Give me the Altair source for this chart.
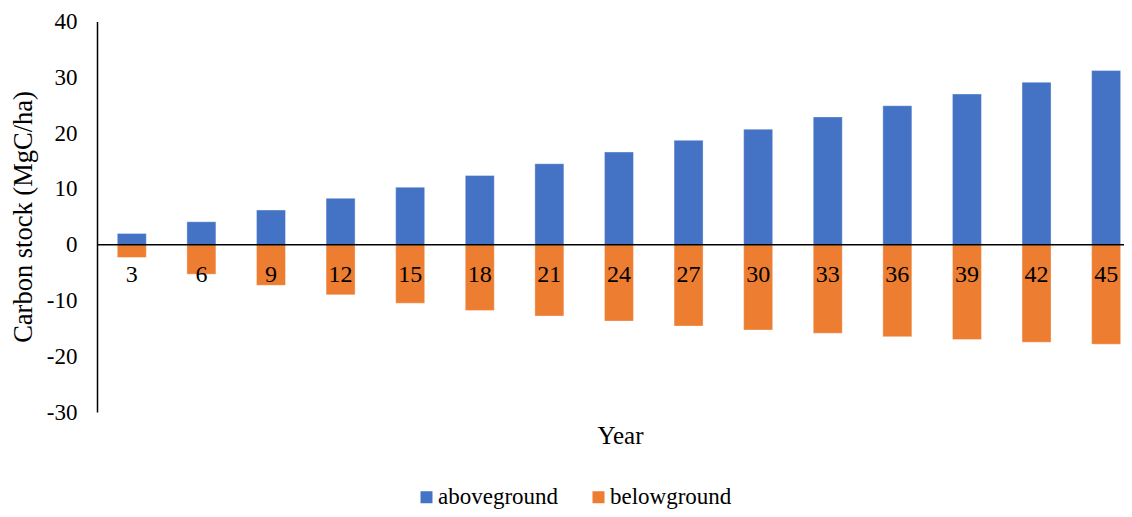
import altair as alt
import pandas as pd

years = [3, 6, 9, 12, 15, 18, 21, 24, 27, 30, 33, 36, 39, 42, 45]
aboveground = [2.0, 4.1, 6.2, 8.3, 10.3, 12.4, 14.5, 16.6, 18.7, 20.7, 22.9, 24.9, 27.0, 29.1, 31.2]
belowground = [-2.3, -5.3, -7.3, -9.0, -10.5, -11.8, -12.8, -13.7, -14.6, -15.3, -15.9, -16.5, -17.0, -17.5, -17.85]
series = ["aboveground", "belowground"]
colors = ["#4472C4", "#ED7D31"]
y_ticks = [-30, -20, -10, 0, 10, 20, 30, 40]

rows = []
for yr, a, b in zip(years, aboveground, belowground):
    rows.append({"year": yr, "series": "aboveground", "value": a})
    rows.append({"year": yr, "series": "belowground", "value": b})
df = pd.DataFrame(rows)
lab_df = pd.DataFrame({"year": years, "label": [str(y) for y in years], "zero": [0] * len(years)})
zero_df = pd.DataFrame({"v": [0]})

FONT = "Liberation Serif"
W, H = 1027, 390.5

xscale = alt.Scale(domain=[1.5, 45.77], nice=False, zero=False, padding=0)
yscale = alt.Scale(domain=[-30, 40], nice=False, zero=False)

bars = alt.Chart(df).mark_bar(size=29, stroke="#ffffff", strokeWidth=0.6, strokeOpacity=0.6).encode(
    x=alt.X("year:Q", scale=xscale,
            axis=alt.Axis(labels=False, ticks=False, domain=False, grid=False, title="Year",
                          titleFont=FONT, titleFontSize=25, titleFontWeight="normal",
                          titleColor="black", titleX=523, titleY=23, titleBaseline="middle")),
    y=alt.Y("value:Q", scale=yscale,
            axis=alt.Axis(values=y_ticks, ticks=False, grid=False, domain=True, domainColor="black",
                          domainWidth=1.5, labelFont=FONT, labelFontSize=23, labelColor="black",
                          labelPadding=20, labelExpr="toString(datum.value)",
                          title="Carbon stock (MgC/ha)", titleFont=FONT,
                          titleFontSize=26.5, titleFontWeight="normal", titleColor="black",
                          titleX=-74, titleY=195, titleAlign="center", titleBaseline="middle")),
    color=alt.Color("series:N", scale=alt.Scale(domain=series, range=colors),
                    legend=alt.Legend(title=None, orient="none", direction="horizontal",
                                      legendX=318, legendY=464, symbolType="square",
                                      symbolSize=144, symbolStrokeWidth=0, labelFont=FONT,
                                      labelFontSize=23, labelColor="black", labelOffset=0,
                                      columnPadding=28, padding=0)),
    order=alt.Order("series:N"),
)

zero_line = alt.Chart(zero_df).mark_rule(color="black", strokeWidth=1.5).encode(
    y=alt.Y("v:Q", scale=yscale)
)

labels = alt.Chart(lab_df).mark_text(font=FONT, fontSize=24, color="black", dy=30,
                                     baseline="middle", align="center").encode(
    x=alt.X("year:Q", scale=xscale),
    y=alt.Y("zero:Q", scale=yscale),
    text="label:N",
)

chart = alt.layer(bars, zero_line, labels).properties(
    width=W, height=H,
    autosize=alt.AutoSizeParams(type="none"),
    padding={"left": 89, "top": 13.5, "right": 0, "bottom": 97},
).configure(
    background="white",
    view=alt.ViewConfig(stroke=None),
    axisX=alt.AxisConfig(domain=False, ticks=False, grid=False, labels=False),
    axisY=alt.AxisConfig(grid=False, ticks=False),
)

chart.save("out.html", embed_options={"renderer": "svg", "actions": False})
